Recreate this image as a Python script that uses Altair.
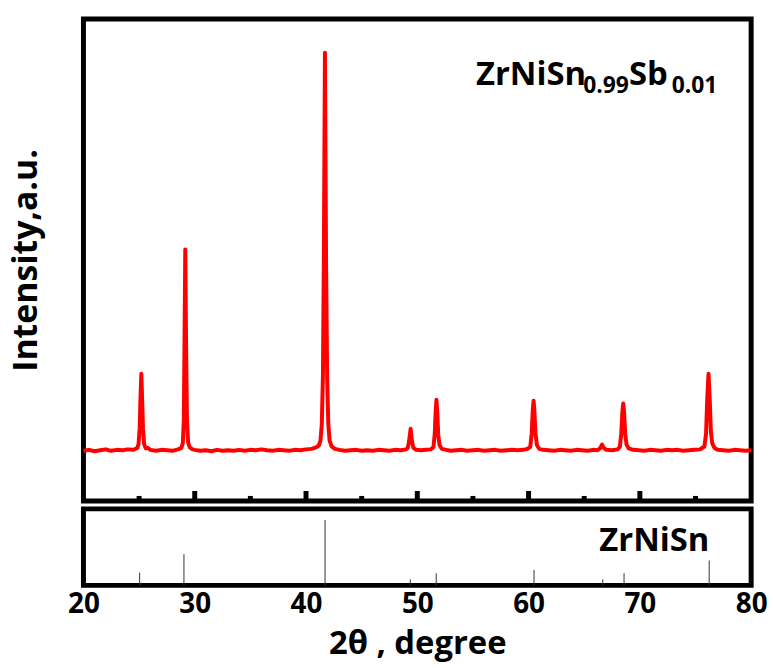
import altair as alt
import pandas as pd

# ---- data ----
two_theta = [20.0, 20.5, 21.0, 21.5, 22.0, 22.5, 23.0, 23.5, 24.0, 24.5,
             24.85, 24.95, 25.05, 25.12, 25.2, 25.28, 25.35, 25.45, 25.6, 25.8,
             26.0, 26.5, 27.0, 27.5, 28.0, 28.5, 28.8, 28.93, 29.02, 29.08,
             29.15, 29.22, 29.3, 29.4, 29.55, 29.8, 30.0, 30.5, 31.0, 31.5,
             32.0, 32.5, 33.0, 33.5, 34.0, 34.5, 35.0, 35.5, 36.0, 36.5,
             37.0, 37.5, 38.0, 38.5, 39.0, 39.5, 40.0, 40.5, 40.9, 41.15,
             41.3, 41.42, 41.52, 41.6, 41.7, 41.8, 41.9, 42.0, 42.12, 42.3,
             42.6, 43.0, 43.5, 44.0, 44.5, 45.0, 45.5, 46.0, 46.5, 47.0,
             47.5, 48.0, 48.5, 49.0, 49.15, 49.27, 49.4, 49.52, 49.65, 49.9,
             50.3, 50.8, 51.2, 51.45, 51.57, 51.65, 51.72, 51.8, 51.88, 52.0,
             52.2, 52.6, 53.0, 53.5, 54.0, 54.5, 55.0, 55.5, 56.0, 56.5,
             57.0, 57.5, 58.0, 58.5, 59.0, 59.5, 59.9, 60.15, 60.28, 60.38,
             60.45, 60.52, 60.62, 60.75, 60.95, 61.3, 61.8, 62.3, 62.8, 63.3,
             63.8, 64.3, 64.8, 65.3, 65.8, 66.2, 66.45, 66.6, 66.75, 67.0,
             67.5, 68.0, 68.2, 68.33, 68.43, 68.5, 68.58, 68.68, 68.8, 69.0,
             69.4, 69.9, 70.4, 70.9, 71.4, 71.9, 72.4, 72.9, 73.4, 73.9,
             74.4, 74.9, 75.4, 75.8, 75.95, 76.05, 76.17, 76.28, 76.38, 76.5,
             76.7, 77.0, 77.5, 78.0, 78.5, 79.0, 79.5, 80.0]
intensity = [104, 106, 103, 105, 107, 104, 106, 105, 107, 106,
             110, 118, 150, 210, 264, 205, 150, 118, 109, 110,
             106, 104, 106, 105, 104, 107, 110, 120, 170, 330,
             522, 330, 170, 122, 111, 107, 106, 104, 105, 103,
             106, 104, 105, 104, 106, 104, 106, 105, 107, 105,
             104, 106, 105, 104, 106, 105, 107, 108, 111, 115,
             125, 160, 260, 500, 930, 500, 255, 160, 125, 113,
             108, 106, 104, 105, 106, 104, 105, 104, 106, 105,
             104, 106, 105, 107, 110, 125, 150, 124, 110, 106,
             105, 106, 107, 111, 140, 185, 210, 182, 138, 116,
             108, 106, 104, 105, 106, 104, 105, 106, 104, 105,
             106, 104, 105, 106, 105, 106, 108, 112, 140, 190,
             208, 188, 140, 116, 108, 106, 105, 104, 106, 105,
             104, 106, 105, 104, 106, 105, 110, 117, 110, 106,
             105, 107, 112, 140, 185, 202, 185, 140, 117, 109,
             106, 105, 104, 106, 105, 104, 106, 105, 106, 104,
             105, 106, 107, 113, 140, 210, 264, 210, 145, 120,
             110, 106, 105, 104, 106, 105, 104, 105]

stick_pos = [25.05, 29.03, 41.71, 49.37, 51.70, 60.49, 66.67, 68.58, 76.23]
stick_int = [19.5, 47.7, 100, 9.2, 18.5, 23.6, 9.2, 18.5, 38]

major_ticks = [30, 40, 50, 60, 70]
minor_ticks = [25, 35, 45, 55, 65, 75]
x_labels = [20, 30, 40, 50, 60, 70, 80]

FONT = "Open Sans"
W, H1, H2 = 672, 485, 77

xs = alt.Scale(domain=[20, 80], nice=False, zero=False)

pattern = pd.DataFrame({"tt": two_theta, "I": intensity})
line = alt.Chart(pattern).mark_line(color="#ff0000", strokeWidth=4,
                                     strokeJoin="round").encode(
    x=alt.X("tt:Q", scale=xs, axis=None),
    y=alt.Y("I:Q", scale=alt.Scale(domain=[0, 1000], nice=False),
            axis=alt.Axis(title="Intensity,a.u.", labels=False, ticks=False,
                          domain=False, grid=False, titleFont=FONT,
                          titleFontSize=34, titleFontWeight="bold",
                          titlePadding=40, titleColor="black")),
)

major = alt.Chart(pd.DataFrame({"t": major_ticks})).mark_rule(
    color="black", strokeWidth=5).encode(
    x=alt.X("t:Q", scale=xs, axis=None),
    y=alt.value(H1), y2=alt.value(H1 - 10))
minor = alt.Chart(pd.DataFrame({"t": minor_ticks})).mark_rule(
    color="black", strokeWidth=5).encode(
    x=alt.X("t:Q", scale=xs, axis=None),
    y=alt.value(H1), y2=alt.value(H1 - 5))


def txt(s, x, y, size):
    return alt.Chart(pd.DataFrame({"s": [s]})).mark_text(
        font=FONT, fontSize=size, fontWeight="bold", align="left",
        baseline="alphabetic", color="black").encode(
        text="s:N", x=alt.value(x), y=alt.value(y))


title_layers = [txt("ZrNiSn", 395, 66, 33), txt("0.99", 503, 74, 23),
                txt("Sb", 549, 66, 33), txt("0.01", 592, 74, 23)]

upper = alt.layer(line, major, minor, *title_layers).properties(width=W, height=H1)

sticks_df = pd.DataFrame({"p": stick_pos, "h": stick_int})
sticks = alt.Chart(sticks_df).mark_rule(color="#333333", strokeWidth=1).encode(
    x=alt.X("p:Q", scale=xs,
            axis=alt.Axis(values=x_labels, format="d", labelFont=FONT,
                          labelFontSize=28, labelFontWeight="bold",
                          labelColor="black", labelFlush=False, ticks=False,
                          domain=False, grid=False, labelPadding=5,
                          title="2θ , degree", titleFont=FONT,
                          titleFontSize=33, titleFontWeight="bold",
                          titleColor="black", titlePadding=10)),
    y=alt.Y("h:Q", scale=alt.Scale(domain=[0, 117], nice=False), axis=None),
    y2=alt.value(H2),
)
label2 = alt.Chart(pd.DataFrame({"s": ["ZrNiSn"]})).mark_text(
    font=FONT, fontSize=33, fontWeight="bold", align="right",
    baseline="alphabetic", color="black").encode(
    text="s:N", x=alt.value(630), y=alt.value(42))

lower = alt.layer(sticks, label2).properties(width=W, height=H2)

chart = alt.vconcat(upper, lower, spacing=0).configure_view(
    stroke="black", strokeWidth=5).properties(
    padding={"left": 7, "top": 14, "right": 3, "bottom": 3})

chart.save("out.html", embed_options={"renderer": "svg", "actions": False})
